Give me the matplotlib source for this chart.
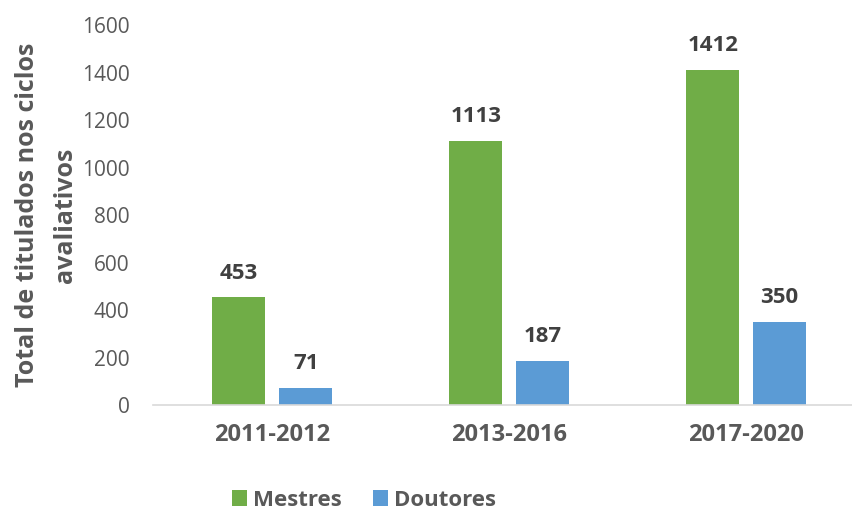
import numpy as np
import matplotlib
matplotlib.use("Agg")
import matplotlib.pyplot as plt

periodos = ["2011-2012", "2013-2016", "2017-2020"]
mestres = [453, 1113, 1412]
doutores = [71, 187, 350]
yticks = [0, 200, 400, 600, 800, 1000, 1200, 1400, 1600]

plt.rcParams["font.family"] = ["Open Sans", "DejaVu Sans"]

verde = "#70AD47"
azul = "#5B9BD5"
cinza = "#595959"
escuro = "#404040"

fig = plt.figure(figsize=(8.52, 5.13), dpi=100)
ax = fig.add_axes([0.18, 0.2105, 0.82, 0.7405])

x = np.arange(len(periodos))
w = 0.224
off = 0.141
b1 = ax.bar(x - off, mestres, w, color=verde, label="Mestres")
b2 = ax.bar(x + off, doutores, w, color=azul, label="Doutores")

for bars, vals in [(b1, mestres), (b2, doutores)]:
    for b, v in zip(bars, vals):
        ax.annotate(str(v), (b.get_x() + b.get_width() / 2, v),
                    xytext=(0, 10), textcoords="offset points",
                    ha="center", va="bottom", fontsize=16,
                    fontweight="bold", color=escuro)

ax.set_xlim(-0.502, 2.447)
ax.set_ylim(0, 1600)
ax.set_yticks(yticks)
ax.set_yticklabels([str(t) for t in yticks], fontsize=15, color=cinza)
ax.set_xticks(x)
ax.set_xticklabels(periodos, fontsize=17, fontweight="bold", color=cinza)
ax.tick_params(axis="both", length=0)
ax.tick_params(axis="x", pad=13)
ax.tick_params(axis="y", pad=17)

for s in ["top", "right", "left"]:
    ax.spines[s].set_visible(False)
ax.spines["bottom"].set_color("#D9D9D9")
ax.spines["bottom"].set_linewidth(1.2)

ax.set_ylabel("Total de titulados nos ciclos\navaliativos", fontsize=18,
              fontweight="bold", color=cinza, linespacing=1.65, labelpad=3)

leg = fig.legend(loc="lower center", bbox_to_anchor=(0.427, -0.035), ncol=2,
                 frameon=False, fontsize=16, handlelength=0.7,
                 handleheight=0.7, handletextpad=0.25, columnspacing=1.4)
for t in leg.get_texts():
    t.set_color(cinza)
    t.set_fontweight("bold")

fig.savefig("out.png", dpi=100)
